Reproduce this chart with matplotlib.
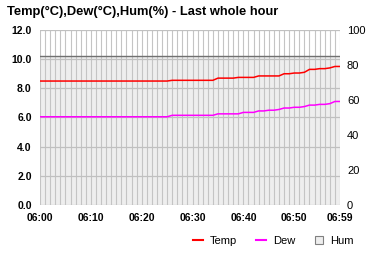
import matplotlib
matplotlib.use("Agg")
import matplotlib.pyplot as plt
from matplotlib.lines import Line2D

plt.rcParams['font.family'] = ['Liberation Sans', 'DejaVu Sans']

minutes = list(range(60))
temp = [8.5]*26 + [8.55]*9 + [8.7]*4 + [8.75]*4 + [8.85]*5 \
    + [9.0, 9.0, 9.05, 9.05, 9.1] + [9.3, 9.3, 9.35, 9.35, 9.4] + [9.5, 9.5]
dew = [6.05]*26 + [6.15]*9 + [6.25]*5 + [6.35]*3 \
    + [6.45, 6.45, 6.5, 6.5, 6.55] + [6.65, 6.65, 6.7, 6.7, 6.75] \
    + [6.85, 6.85, 6.9, 6.9, 6.95] + [7.1, 7.1]
hum = [85]*60
xtick_pos = [0, 10, 20, 30, 40, 50, 59]
xtick_labels = ["06:00", "06:10", "06:20", "06:30", "06:40", "06:50", "06:59"]
left_ticks = [0, 2, 4, 6, 8, 10, 12]
right_ticks = [0, 20, 40, 60, 80, 100]

fig = plt.figure(figsize=(3.8, 2.6), dpi=100)
ax = fig.add_axes([40/380, 1-205/260, 300/380, 175/260])
ax2 = ax.twinx()

# humidity area on right axis
ax2.fill_between(minutes, 0, hum, color='#eeeeee', zorder=0, linewidth=0)
ax2.plot(minutes, hum, color='#707070', lw=1.0, zorder=2)

# grid
for m in minutes:
    ax2.axvline(m, color='#c4c4c4', lw=0.8, zorder=1)
for t in left_ticks:
    ax.axhline(t, color='#c0c0c0', lw=0.9, zorder=1)

ax.set_zorder(ax2.get_zorder() + 1)
ax.patch.set_visible(False)
ax.plot(minutes, temp, color='#ff0000', lw=1.1, zorder=3)
ax.plot(minutes, dew, color='#ff00ff', lw=1.1, zorder=3)

ax.set_xlim(0, 59)
ax.set_ylim(0, 12)
ax2.set_ylim(0, 100)
ax.set_yticks(left_ticks)
ax.set_yticklabels([f"{v:.1f}" for v in left_ticks], fontweight='bold', fontsize=7.5)
ax2.set_yticks(right_ticks)
ax2.set_yticklabels([str(v) for v in right_ticks], fontsize=8)
ax.set_xticks(xtick_pos)
ax.set_xticklabels(xtick_labels, fontweight='bold', fontsize=7.5)
ax.tick_params(length=0, pad=6)
ax2.tick_params(length=0, pad=5)
for a in (ax, ax2):
    for s in a.spines.values():
        s.set_visible(False)

fig.text(7/380, 1-12/260, "Temp(°C),Dew(°C),Hum(%) - Last whole hour",
         fontsize=9.3, fontweight='bold', va='center', ha='left')

handles = [Line2D([], [], color='#ff0000', lw=1.5),
           Line2D([], [], color='#ff00ff', lw=1.5),
           Line2D([], [], ls='none', marker='s', markersize=6,
                  markerfacecolor='#eeeeee', markeredgecolor='#808080', markeredgewidth=0.8)]
fig.legend(handles, ["Temp", "Dew", "Hum"], ncol=3, frameon=False,
           loc='center right', bbox_to_anchor=(364/380, 1-241/260),
           fontsize=8, handlelength=0.9, handletextpad=0.6, columnspacing=1.7)

fig.savefig("out.png", dpi=100)
